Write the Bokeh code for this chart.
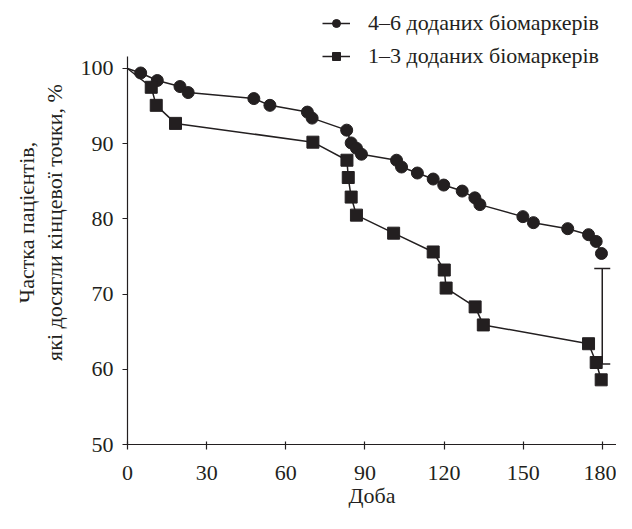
from bokeh.plotting import figure
from bokeh.models import (ColumnDataSource, FixedTicker, Legend, LegendItem,
                          Whisker, TeeHead, Range1d)
from bokeh.embed import file_html
from bokeh.resources import INLINE

# ---- data ----
days_46 = [0, 5.0, 11.3, 19.9, 23.0, 47.9, 54.0, 68.2, 70.0, 83.1, 84.8, 86.8, 88.7,
           102.0, 103.9, 109.9, 115.9, 119.9, 126.9, 131.7, 133.6, 149.9, 153.9,
           166.9, 174.8, 177.7, 179.7]
vals_46 = [100, 99.4, 98.4, 97.6, 96.8, 96.0, 95.1, 94.2, 93.4, 91.8, 90.1, 89.4, 88.6,
           87.8, 86.9, 86.1, 85.3, 84.5, 83.7, 82.8, 81.9, 80.3, 79.5,
           78.7, 77.9, 77.0, 75.4]

days_13 = [0, 9.0, 10.9, 18.2, 70.3, 83.2, 83.7, 84.8, 86.8, 100.9, 115.9, 120.1,
           120.8, 131.8, 134.9, 174.8, 177.7, 179.6]
vals_13 = [100, 97.5, 95.1, 92.7, 90.2, 87.8, 85.5, 82.9, 80.5, 78.1, 75.6, 73.2,
           70.8, 68.3, 65.9, 63.4, 60.9, 58.6]

err_day = [180]
err_upper = [73.4]
err_lower = [60.7]

x_ticks = [0, 30, 60, 90, 120, 150, 180]
y_ticks = [50, 60, 70, 80, 90, 100]

label_46 = "4–6 доданих біомаркерів"
label_13 = "1–3 доданих біомаркерів"
x_title = "Доба"
y_title = "Частка пацієнтів,\nякі досягли кінцевої точки, %"

FONT = "Liberation Serif"
INK = "#231f20"

p = figure(width=616, height=513, output_backend="svg", toolbar_location=None,
           x_range=Range1d(0, 185.4), y_range=Range1d(50, 109.04),
           min_border_left=127, min_border_right=0, min_border_top=0,
           min_border_bottom=69)
p.outline_line_color = None
p.grid.visible = False
p.background_fill_color = "white"
p.border_fill_color = "white"

src46 = ColumnDataSource(dict(x=days_46, y=vals_46))
src46m = ColumnDataSource(dict(x=days_46[1:], y=vals_46[1:]))
src13 = ColumnDataSource(dict(x=days_13, y=vals_13))
src13m = ColumnDataSource(dict(x=days_13[1:], y=vals_13[1:]))

l46 = p.line("x", "y", source=src46, line_color=INK, line_width=1.5)
m46 = p.scatter("x", "y", source=src46m, marker="circle", size=12,
                fill_color=INK, line_color=INK)
l13 = p.line("x", "y", source=src13, line_color=INK, line_width=1.5)
m13 = p.scatter("x", "y", source=src13m, marker="square", size=12,
                fill_color=INK, line_color=INK)

esrc = ColumnDataSource(dict(x=err_day, upper=err_upper, lower=err_lower))
wh = Whisker(base="x", upper="upper", lower="lower", source=esrc,
             line_color=INK, line_width=1.5,
             upper_head=TeeHead(size=16, line_color=INK, line_width=1.5),
             lower_head=TeeHead(size=16, line_color=INK, line_width=1.5))
p.add_layout(wh)

for ax in (p.xaxis[0], p.yaxis[0]):
    ax.axis_line_color = INK
    ax.axis_line_width = 1.2
    ax.major_tick_line_color = INK
    ax.major_tick_line_width = 1.2
    ax.minor_tick_line_color = None
    ax.major_label_text_font = FONT
    ax.major_label_text_font_size = "22px"
    ax.major_label_text_color = INK
    ax.axis_label_text_font = FONT
    ax.axis_label_text_font_size = "22px"
    ax.axis_label_text_font_style = "normal"
    ax.axis_label_text_color = INK

p.xaxis.ticker = FixedTicker(ticks=x_ticks)
p.yaxis.ticker = FixedTicker(ticks=y_ticks)
p.yaxis.bounds = (50, 101.6)
p.xaxis.major_tick_in = 3
p.xaxis.major_tick_out = 5
p.yaxis.major_tick_in = 0
p.yaxis.major_tick_out = 5
p.xaxis.major_label_standoff = 16
p.yaxis.major_label_standoff = 9
p.xaxis.axis_label = x_title
p.yaxis.axis_label = y_title
p.xaxis.axis_label_standoff = 0
p.yaxis.axis_label_standoff = 11
p.yaxis.axis_label_text_line_height = 1.1

legend = Legend(items=[LegendItem(label=label_46, renderers=[l46, m46]),
                       LegendItem(label=label_13, renderers=[l13, m13])],
                location=(195, 375), orientation="vertical",
                label_text_font=FONT, label_text_font_size="22px",
                label_text_color=INK, label_standoff=18,
                glyph_width=28, glyph_height=20, label_height=20,
                spacing=7, padding=0, margin=0,
                border_line_color=None, background_fill_alpha=0)
p.add_layout(legend, "center")

with open("out.html", "w") as f:
    f.write(file_html(p, INLINE))
